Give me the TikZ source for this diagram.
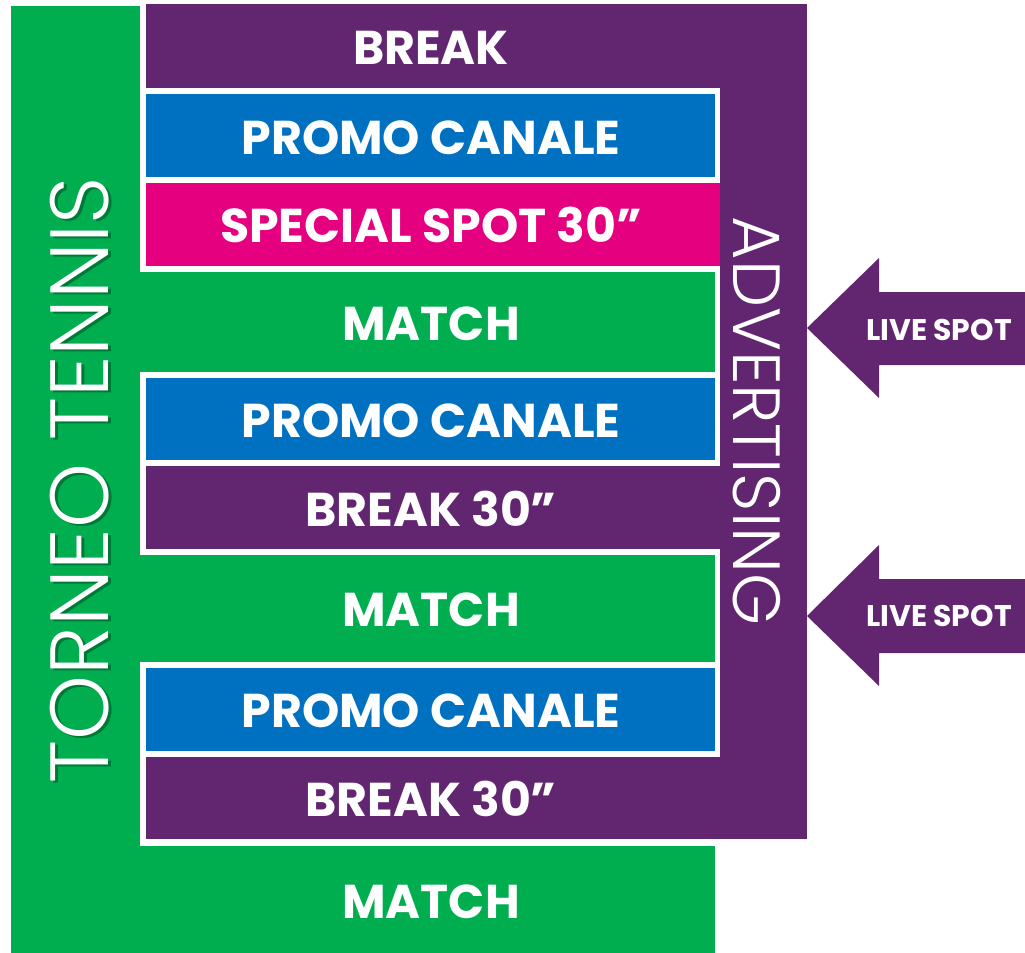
\documentclass[tikz,border=0pt]{standalone}
\usepackage{fontspec}
\setmainfont{Poppins}
\newfontfamily\thinfont{Poppins}[UprightFont=* Light]
\definecolor{tgreen}{HTML}{00AE4F}
\definecolor{tpurple}{HTML}{622671}
\definecolor{tblue}{HTML}{0071C1}
\definecolor{tpink}{HTML}{E5007F}
\tikzset{
  rowtext/.style={text=white, inner sep=0pt, text height=18.9pt, text depth=0pt,
    font=\fontsize{27}{27}\selectfont\bfseries},
  livetext/.style={text=white, inner sep=0pt, text height=11.9pt, text depth=0pt,
    font=\fontsize{17}{17}\selectfont\bfseries},
  sidetext/.style={text=white, inner sep=0pt, text depth=0pt}
}

\begin{document}
\begin{tikzpicture}[x=0.02cm,y=-0.02cm]
  \useasboundingbox (0,0) rectangle (1025,953);

  % Torneo (green L)
  \fill[tgreen] (11,6) rectangle (715,953);

  % White frames
  \fill[white] (140,0) rectangle (720,272);
  \fill[white] (140,372) rectangle (720,555);
  \fill[white] (140,662) rectangle (720,846);

  % Advertising (purple)
  \fill[tpurple] (146,4) rectangle (807,88);
  \fill[tpurple] (720,4) rectangle (807,839);
  \fill[tpurple] (146,466) rectangle (720,549);
  \fill[tpurple] (146,757) rectangle (720,839);

  % Promo canale + special spot
  \fill[tblue] (146,94) rectangle (715,177);
  \fill[tpink] (146,183) rectangle (720,266);
  \fill[tblue] (146,378) rectangle (715,460);
  \fill[tblue] (146,668) rectangle (715,751);

  % Live spot arrows
  \fill[tpurple] (807,328) -- (879,258) -- (879,292) -- (1025,292)
    -- (1025,365) -- (879,365) -- (879,398) -- cycle;
  \fill[tpurple] (807,616) -- (879,545) -- (879,579) -- (1025,579)
    -- (1025,653) -- (879,653) -- (879,686) -- cycle;

  % Row labels
  \node[rowtext] (breakA) at (431,48) {BREAK};
  \node[rowtext] (promoA) at (431,138) {PROMO CANALE};
  \node[rowtext] (special) at (431,226) {SPECIAL SPOT 30”};
  \node[rowtext] (matchA) at (431,324) {MATCH};
  \node[rowtext] (promoB) at (431,421) {PROMO CANALE};
  \node[rowtext] (breakB) at (431,510) {BREAK 30”};
  \node[rowtext] (matchB) at (431,610) {MATCH};
  \node[rowtext] (promoC) at (431,711) {PROMO CANALE};
  \node[rowtext] (breakC) at (431,800) {BREAK 30”};
  \node[rowtext] (matchC) at (431,902) {MATCH};

  % Side labels
  \node[sidetext, text=black, opacity=0.3, rotate=90, text height=33pt,
    font=\thinfont\fontsize{47}{47}\selectfont] (torneoshadow) at (83,482) {TORNEO TENNIS};
  \node[sidetext, rotate=90, text height=33pt,
    font=\thinfont\fontsize{47}{47}\selectfont] (torneo) at (80,480) {TORNEO TENNIS};
  \node[sidetext, rotate=-90, text height=27.5pt,
    font=\thinfont\fontsize{38}{38}\selectfont] (advert) at (758,421) {ADVERTISING};
  \node[livetext] (liveA) at (939,330) {LIVE SPOT};
  \node[livetext] (liveB) at (939,616) {LIVE SPOT};
\end{tikzpicture}
\end{document}
